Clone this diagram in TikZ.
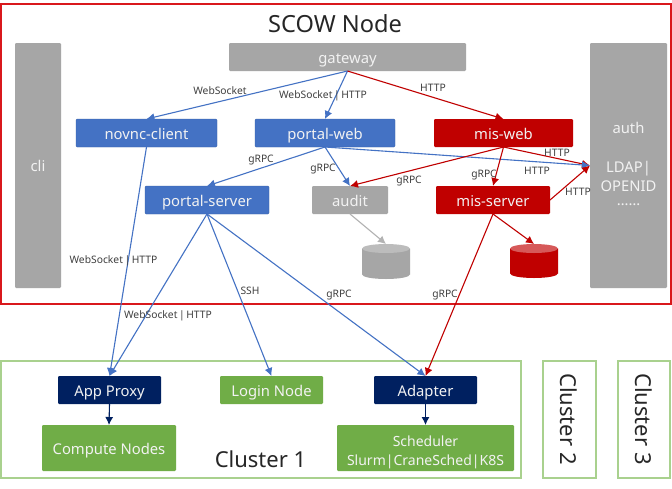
\documentclass[tikz,border=0pt]{standalone}
\usepackage{fontspec}
\setmainfont{Noto Sans}
\usetikzlibrary{arrows.meta}
\definecolor{cblue}{HTML}{4472C4}
\definecolor{cred}{HTML}{C00000}
\definecolor{cgray}{HTML}{A6A6A6}
\definecolor{cgreen}{HTML}{70AD47}
\definecolor{cnavy}{HTML}{002060}
\definecolor{cframe}{HTML}{A9D18E}
\definecolor{coutline}{HTML}{D9181C}
\definecolor{clabel}{HTML}{404040}
\definecolor{cwhite}{HTML}{F2F2F2}
\tikzset{
  x=1pt,y=-1pt,
  box/.style={anchor=north west,inner sep=0pt,outer sep=0pt,rounded corners=1.2pt,text=cwhite,font=\fontsize{14.8}{19}\selectfont,align=center,text height=12pt,text depth=0pt},
  bluebox/.style={box,fill=cblue,draw=cblue!85!black,line width=0.4pt},
  redbox/.style={box,fill=cred},
  graybox/.style={box,fill=cgray},
  greenbox/.style={box,fill=cgreen},
  navybox/.style={box,fill=cnavy},
  frame/.style={draw=cframe,line width=1.3pt,anchor=north west,inner sep=0pt,outer sep=0pt},
  conn/.style={line width=1.1pt,-{Latex[length=8pt,width=8pt]}},
  bluec/.style={conn,draw=cblue,color=cblue},
  redc/.style={conn,draw=cred,color=cred},
  grayc/.style={conn,draw=cgray!85!white,color=cgray!85!white},
  navyc/.style={conn,draw=cnavy,color=cnavy},
  lab/.style={text=clabel,font=\fontsize{10.3}{11}\selectfont,inner sep=0pt},
  big/.style={text=black!85,font=\fontsize{22}{24}\selectfont,inner sep=0pt},
  dbbox/.style={anchor=north west,inner sep=0pt,outer sep=0pt},
}
\newcommand{\bx}[7]{\node[#1,minimum width=#5 pt-#3 pt,minimum height=#6 pt-#4 pt] (#2) at (#3,#4) {#7};}
\newcommand{\dbcyl}[6]{% body colour, end colour, left, top, right, bottom
  \fill[#1] (#3,#4+4.5) -- (#3,#6-4.5) arc[start angle=180,end angle=360,x radius=24pt,y radius=4.5pt] -- (#5,#4+4.5) -- cycle;
  \fill[#2] (#3+24,#4+4.5) ellipse[x radius=24pt,y radius=4.5pt];
}
\newcommand{\sep}{\kern1.6pt|\kern1.6pt}
\begin{document}
\begin{tikzpicture}
\useasboundingbox (0,0) rectangle (672,488);
\fill[white] (0,0) rectangle (672,488);
% outer frames
\bx{frame,draw=coutline,line width=1.5pt}{scow}{1}{4}{671}{304}{}
\bx{frame}{clusterA}{1}{361}{521}{478}{}
\bx{frame}{clusterB}{543}{361}{596}{478}{}
\bx{frame}{clusterC}{618}{361}{670}{478}{}
% titles
\node[big,font=\fontsize{23.6}{24}\selectfont,anchor=base] (title) at (335,32) {SCOW Node};
\node[big,anchor=base] (ctitleA) at (260.5,467) {Cluster 1};
\node[big,rotate=-90] (ctitleB) at (568.5,419) {Cluster 2};
\node[big,rotate=-90] (ctitleC) at (643.5,419) {Cluster 3};
% boxes
\bx{graybox}{cli}{15}{43}{61}{288}{cli}
\bx{graybox}{gateway}{229}{43}{466}{71}{gateway}
\bx{bluebox}{novnc}{76}{119}{217}{147}{novnc-client}
\bx{bluebox}{portalweb}{255}{119}{395}{147}{portal-web}
\bx{redbox}{misweb}{434}{119}{573}{147}{mis-web}
\bx{bluebox}{portalserver}{145}{186}{269}{214}{portal-server}
\bx{graybox}{audit}{312}{186}{388}{214}{audit}
\bx{redbox}{misserver}{436}{186}{550}{214}{mis-server}
\bx{graybox,text height=79pt}{auth}{590}{43}{667}{288}{auth\\[20pt]LDAP|\\OPENID\\[-5pt]……}
\bx{navybox}{appproxy}{58}{376}{161}{404}{App Proxy}
\bx{greenbox}{login}{220}{376}{323}{404}{Login Node}
\bx{navybox}{adapter}{374}{376}{477}{404}{Adapter}
\bx{greenbox}{compute}{42}{425}{176}{471}{Compute Nodes}
\bx{greenbox,font=\fontsize{14}{19}\selectfont,text height=34pt}{scheduler}{337}{425}{514}{471}{Scheduler\\Slurm|CraneSched|K8S}
% databases
\dbcyl{cgray}{cgray!75!white}{362}{244}{410}{279}
\dbcyl{cred}{cred!65!white}{510}{244}{558}{278}
\node[dbbox,minimum width=48pt,minimum height=35pt] (dbgray) at (362,244) {};
\node[dbbox,minimum width=48pt,minimum height=34pt] (dbred) at (510,244) {};
% connectors
\draw[bluec] (gateway.south) -- (novnc.north);
\draw[bluec] (gateway.south) -- (portalweb.north);
\draw[redc] (gateway.south) -- (misweb.north);
\draw[bluec] (novnc.south) -- (appproxy.north);
\draw[bluec] (portalweb.south) -- (portalserver.north);
\draw[bluec] (portalweb.south) -- (audit.north);
\draw[redc] (misweb.south) -- (auth.west);
\draw[bluec] (portalweb.south) -- (auth.west);
\draw[redc] (misweb.south) -- (audit.north);
\draw[redc] (misweb.south) -- (misserver.north);
\draw[redc] (misserver.east) -- (auth.west);
\draw[redc] (misserver.south) -- (dbred.north);
\draw[bluec] (portalserver.south) -- (adapter.north);
\draw[redc] (misserver.south) -- (adapter.north);
\draw[grayc] (audit.south) -- (dbgray.north);
\draw[bluec] (portalserver.south) -- (appproxy.north);
\draw[bluec] (portalserver.south) -- (login.north);
\draw[navyc] (appproxy.south) -- (compute.north);
\draw[navyc] (adapter.south) -- (scheduler.north);
% labels
\node[lab] (l1) at (220,91) {WebSocket};
\node[lab] (l2) at (323,96) {WebSocket\sep HTTP};
\node[lab] (l3) at (433,88) {HTTP};
\node[lab] (l4) at (261,160) {gRPC};
\node[lab] (l5) at (323,169) {gRPC};
\node[lab] (l6) at (409,181) {gRPC};
\node[lab] (l7) at (484,175) {gRPC};
\node[lab] (l8) at (557,153) {HTTP};
\node[lab] (l9) at (537,171) {HTTP};
\node[lab] (l10) at (578,192) {HTTP};
\node[lab] (l11) at (113.5,261) {WebSocket\sep HTTP};
\node[lab] (l12) at (168,316) {WebSocket\sep HTTP};
\node[lab] (l13) at (250,291) {SSH};
\node[lab] (l14) at (339,295) {gRPC};
\node[lab] (l15) at (445,295) {gRPC};
\end{tikzpicture}
\end{document}
